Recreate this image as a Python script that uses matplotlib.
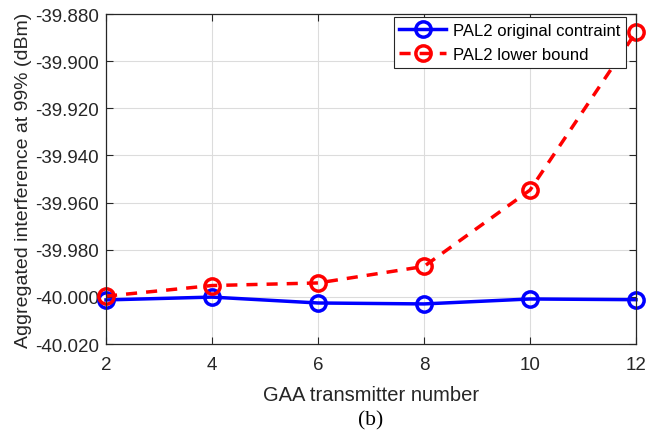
import matplotlib
matplotlib.use("Agg")
import matplotlib.pyplot as plt

plt.rcParams['font.family'] = ['Liberation Sans', 'DejaVu Sans']

gaa_number = [2, 4, 6, 8, 10, 12]
original_constraint = [-40.0013, -40.0001, -40.0026, -40.0030, -40.0009, -40.0012]
lower_bound = [-39.9997, -39.9952, -39.9941, -39.9871, -39.9547, -39.8877]

yticks = [-40.020, -40.000, -39.980, -39.960, -39.940, -39.920, -39.900, -39.880]

fig = plt.figure(figsize=(6.56, 4.31), dpi=100)
ax = fig.add_axes([106 / 656, 1 - 345 / 431, 530 / 656, 330 / 431])

ax.plot(gaa_number, original_constraint, color='#0000ff', linestyle='-', linewidth=2.5,
        marker='o', markersize=11, markerfacecolor='none', markeredgewidth=2.5,
        label='PAL2 original contraint', clip_on=False)
ax.plot(gaa_number, lower_bound, color='#ff0000', linestyle=(0, (3.2, 2.6)), linewidth=2.5,
        marker='o', markersize=11, markerfacecolor='none', markeredgewidth=2.5,
        label='PAL2 lower bound', clip_on=False)

ax.set_xlim(2, 12)
ax.set_ylim(-40.020, -39.880)
ax.set_xticks(gaa_number)
ax.set_yticks(yticks)
ax.set_yticklabels(['%.3f' % v for v in yticks])
ax.tick_params(direction='in', top=True, right=True, labelsize=13.5, length=5, width=0.8,
               color='#262626', labelcolor='#262626')
ax.tick_params(axis='x', pad=9)
ax.tick_params(axis='y', pad=5)
for s in ax.spines.values():
    s.set_color('#262626')
    s.set_linewidth(0.9)
ax.grid(True, color='#dcdcdc', linewidth=0.8)
ax.set_axisbelow(True)

ax.set_xlabel('GAA transmitter number', fontsize=14.5, color='#262626', labelpad=8)
ax.set_ylabel('Aggregated interference at 99% (dBm)', fontsize=14, color='#262626', labelpad=2)

leg = ax.legend(loc='upper right', bbox_to_anchor=(0.981, 0.991), fontsize=12, fancybox=False,
                framealpha=1, edgecolor='#262626', borderpad=0.35, handlelength=2.8,
                handletextpad=0.4, borderaxespad=0, labelspacing=0.55)
leg.get_frame().set_linewidth(0.8)

fig.text(0.5 * (106 + 636) / 656, 1 - 421 / 431, '(b)', ha='center', va='center',
         fontsize=15.5, family=['Liberation Serif', 'DejaVu Serif'])

fig.savefig('out.png', dpi=100)
